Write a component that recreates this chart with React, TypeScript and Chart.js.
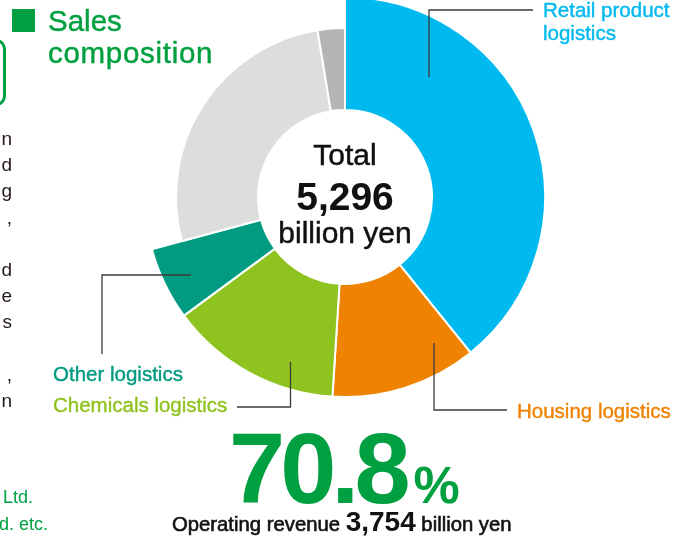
import React, { useEffect, useRef } from "react";
import { Chart, registerables } from "chart.js";

Chart.register(...registerables);

// ---- data ----
const categories = [
  "Retail product logistics",
  "Housing logistics",
  "Chemicals logistics",
  "Other logistics",
  "Other business",
  "Other",
];
const shares = [39.2, 11.8, 13.9, 5.9, 26.6, 2.6];
const isLogistics = [true, true, true, true, false, false];
const totalLabel = "5,296";
const logisticsShareLabel = "70.8";
const logisticsRevenueLabel = "3,754";

// ---- styles ----
const segColors = ["#00b9ef", "#ef8200", "#8fc31f", "#009b80", "#dcdddd", "#b5b5b6"];
const GREEN = "#00a040";
const FONT = "'Liberation Sans', Arial, Helvetica, sans-serif";
const W = 685;
const H = 539;

type TProps = {
  x: number;
  y: number;
  size: number;
  color: string;
  weight?: string | number;
  align?: "left" | "center" | "right";
  stroke?: number;
  spacing?: number;
  children: React.ReactNode;
};

function T({ x, y, size, color, weight = "normal", align = "left", stroke = 0, spacing = 0, children }: TProps) {
  const top = y - 0.8465 * size;
  const base: React.CSSProperties = {
    position: "absolute",
    top,
    fontSize: size,
    lineHeight: `${size}px`,
    color,
    fontWeight: weight as any,
    whiteSpace: "nowrap",
    letterSpacing: spacing,
    WebkitTextStroke: stroke ? `${stroke}px ${color}` : undefined,
  };
  if (align === "left") return <div style={{ ...base, left: x }}>{children}</div>;
  if (align === "right") return <div style={{ ...base, right: W - x, textAlign: "right" }}>{children}</div>;
  return <div style={{ ...base, left: x - 300, width: 600, textAlign: "center" }}>{children}</div>;
}

// leader lines as offsets from donut centre
const leaderLines: number[][][] = [
  [[84, -120], [84, -187], [188, -187]],
  [[89, 146], [89, 213], [162, 213]],
  [[-54.5, 165], [-54.5, 210], [-108, 210]],
  [[-154, 78], [-243, 78], [-243, 157]],
];

const leftFringe = ["n", "d", "g", ",", "", "d", "e", "s", "", ",", "n"];

export default function App() {
  const ref = useRef<HTMLCanvasElement>(null);
  useEffect(() => {
    if (!ref.current) return;
    const ringPlugin = {
      id: "ringPlugin",
      afterDatasetsUpdate(chart: any) {
        const meta = chart.getDatasetMeta(0);
        meta.data.forEach((el: any, i: number) => {
          if (!isLogistics[i]) el.outerRadius = 169;
        });
      },
      afterDatasetsDraw(chart: any) {
        const el = chart.getDatasetMeta(0).data[0];
        const cx = el.x, cy = el.y;
        const ctx = chart.ctx;
        ctx.save();
        ctx.strokeStyle = "#3e3a39";
        ctx.lineWidth = 1.3;
        leaderLines.forEach((pts) => {
          ctx.beginPath();
          pts.forEach(([dx, dy], k) => {
            const px = cx + dx, py = cy + dy;
            if (k === 0) ctx.moveTo(px, py);
            else ctx.lineTo(px, py);
          });
          ctx.stroke();
        });
        ctx.restore();
      },
    };
    const chart = new Chart(ref.current, {
      type: "doughnut",
      data: {
        labels: categories,
        datasets: [
          {
            data: shares,
            backgroundColor: segColors,
            borderColor: "#ffffff",
            borderWidth: 2,
            clip: false as any,
          },
        ],
      },
      options: {
        responsive: false,
        animation: false,
        events: [],
        cutout: "43.5%",
        radius: 200,
        layout: { padding: { left: 5, right: 0, top: 0, bottom: 145 } },
        plugins: { legend: { display: false }, tooltip: { enabled: false } },
      } as any,
      plugins: [ringPlugin],
    });
    return () => chart.destroy();
  }, []);

  return (
    <div
      style={{
        position: "fixed",
        left: 0,
        top: 0,
        width: W,
        height: H,
        overflow: "hidden",
        background: "#fff",
        fontFamily: FONT,
      }}
    >
      <canvas ref={ref} width={W} height={H} style={{ position: "absolute", left: 0, top: 0, display: "block" }} />

      {/* title */}
      <div style={{ position: "absolute", left: 12, top: 9, width: 23, height: 23, background: GREEN }} />
      <T x={48} y={31} size={29.5} color={GREEN} stroke={0.45}>Sales</T>
      <T x={48} y={63} size={29.5} color={GREEN} stroke={0.45} spacing={0.7}>composition</T>
      <div
        style={{
          position: "absolute",
          left: -200,
          top: 39,
          width: 200,
          height: 61,
          border: `3.5px solid ${GREEN}`,
          borderRadius: 10,
        }}
      />

      {/* cropped paragraph on the left */}
      {leftFringe.map((s, i) => (
        <T key={i} x={12} y={145 + i * 26.2} size={19} color="#231815" align="right">
          {s}
        </T>
      ))}
      <T x={33} y={503} size={18} color={GREEN} align="right">Co., Ltd.</T>
      <T x={48} y={530} size={18} color={GREEN} align="right">Ltd. etc.</T>

      {/* centre */}
      <T x={345} y={165} size={30} color="#111" align="center" stroke={0.5}>Total</T>
      <T x={345} y={210} size={39} color="#111" align="center" weight="bold">{totalLabel}</T>
      <T x={345} y={243} size={30} color="#111" align="center" stroke={0.5}>billion yen</T>

      {/* labels */}
      <T x={543} y={17} size={20.5} color={segColors[0]} stroke={0.4}>Retail product</T>
      <T x={543} y={40} size={20.5} color={segColors[0]} stroke={0.4}>logistics</T>
      <T x={517} y={418} size={20.5} color={segColors[1]} stroke={0.4}>Housing logistics</T>
      <T x={53} y={381} size={20.5} color={segColors[3]} stroke={0.4}>Other logistics</T>
      <T x={53} y={412} size={20.5} color={segColors[2]} stroke={0.4}>Chemicals logistics</T>

      {/* big figure */}
      <div
        style={{
          position: "absolute",
          left: 229,
          top: 503 - 0.8465 * 101,
          lineHeight: "101px",
          whiteSpace: "nowrap",
          color: GREEN,
          fontWeight: "bold",
        }}
      >
        <span style={{ fontSize: 101, letterSpacing: -5 }}>{logisticsShareLabel}</span>
        <span style={{ fontSize: 52, marginLeft: 8 }}>%</span>
      </div>
      <div
        style={{
          position: "absolute",
          left: 172,
          top: 532 - 0.8465 * 28,
          lineHeight: "28px",
          whiteSpace: "nowrap",
          color: "#111",
        }}
      >
        <span style={{ fontSize: 20.3, WebkitTextStroke: "0.6px #111" }}>Operating revenue </span>
        <span style={{ fontSize: 28, fontWeight: "bold" }}>{logisticsRevenueLabel}</span>
        <span style={{ fontSize: 20.3, WebkitTextStroke: "0.6px #111" }}> billion yen</span>
      </div>
    </div>
  );
}
